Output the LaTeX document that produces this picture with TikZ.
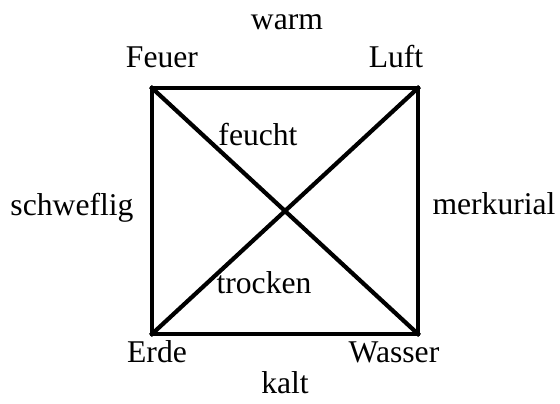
\documentclass[tikz,border=0pt]{standalone}
\usepackage{fontspec}
\setmainfont{Liberation Serif}
\usetikzlibrary{positioning, calc}

\begin{document}
\begin{tikzpicture}[x=0.025cm, y=-0.025cm,
    lbl/.style={anchor=base, inner sep=0pt, font=\fontsize{22.5}{27}\selectfont},
    edge/.style={line width=3pt, line cap=rect}]
    \useasboundingbox (0,0) rectangle (560,403);
    % corners of the square
    \coordinate (fe) at (152,88);
    \coordinate (lu) at (418,88);
    \coordinate (er) at (152,334);
    \coordinate (wa) at (418,334);
    % labels
    \node[lbl] (warm) at (287,29) {warm};
    \node[lbl] (kalt) at (285,393) {kalt};
    \node[lbl] (feuer) at (162,67) {Feuer};
    \node[lbl] (luft) at (396,67) {Luft};
    \node[lbl] (erde) at (157,362) {Erde};
    \node[lbl] (wasser) at (394,362) {Wasser};
    \node[lbl] (schw) at (72,215) {schweflig};
    \node[lbl] (merk) at (494,214) {merkurial};
    \node[lbl] (feucht) at (258,145) {feucht};
    \node[lbl] (trocken) at (264,293) {trocken};
    % square and diagonals
    \draw[edge] (fe) -- (lu) -- (wa) -- (er) -- cycle;
    \draw[edge] (fe) -- (wa);
    \draw[edge] (er) -- (lu);
\end{tikzpicture}
\end{document}
